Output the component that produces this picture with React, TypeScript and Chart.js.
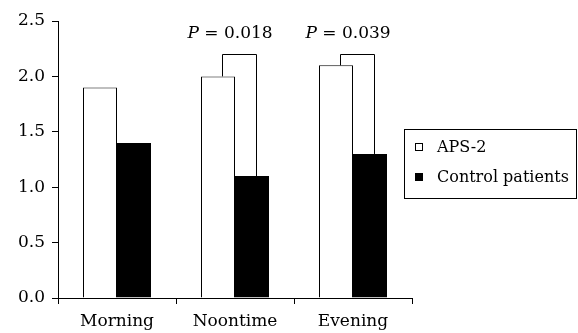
import React, { useEffect, useRef } from "react";
import { Chart, registerables } from "chart.js";

Chart.register(...registerables);

const categories = ["Morning", "Noontime", "Evening"];
const seriesNames = ["APS-2", "Control patients"];
const aps2Values = [1.9, 2.0, 2.1];
const controlValues = [1.4, 1.1, 1.3];
const yTicks = [0, 0.5, 1.0, 1.5, 2.0, 2.5];
const bracketCategories = [1, 2];
const bracketHeights = [2.2, 2.2];
const pValues = ["0.018", "0.039"];

const FONT = "'DejaVu Serif', 'Liberation Serif', serif";
const FS = 17;
const FS_LEGEND = 16;

const overlayPlugin = {
  id: "overlay",
  afterDatasetsDraw(chart: any) {
    const ctx = chart.ctx;
    const y = chart.scales.y;
    const meta0 = chart.getDatasetMeta(0);
    const meta1 = chart.getDatasetMeta(1);
    ctx.save();
    ctx.strokeStyle = "#000";
    ctx.lineWidth = 1;
    bracketCategories.forEach((ci, k) => {
      const b0 = meta0.data[ci];
      const b1 = meta1.data[ci];
      const x0 = Math.round(b0.x + 4) + 0.5;
      const x1 = Math.round(b1.x + 4) + 0.5;
      const top = Math.round(y.getPixelForValue(bracketHeights[k])) + 0.5;
      ctx.beginPath();
      ctx.moveTo(x0, b0.y);
      ctx.lineTo(x0, top);
      ctx.lineTo(x1, top);
      ctx.lineTo(x1, b1.y);
      ctx.stroke();
      const cx = chart.scales.x.getPixelForValue(ci) - 5;
      ctx.fillStyle = "#000";
      ctx.textBaseline = "alphabetic";
      ctx.font = `italic ${FS}px ${FONT}`;
      const pW = ctx.measureText("P").width;
      ctx.font = `${FS}px ${FONT}`;
      const rest = " = " + pValues[k];
      const rW = ctx.measureText(rest).width;
      const start = cx - (pW + rW) / 2;
      ctx.font = `italic ${FS}px ${FONT}`;
      ctx.textAlign = "left";
      ctx.fillText("P", start, 38);
      ctx.font = `${FS}px ${FONT}`;
      ctx.fillText(rest, start + pW, 38);
    });
    const lx = 404.5, ly = 129.5, lw = 172, lh = 69;
    ctx.strokeRect(lx, ly, lw, lh);
    const baseY = [152, 182];
    chart.data.datasets.forEach((ds: any, i: number) => {
      const by = baseY[i];
      ctx.fillStyle = ds.backgroundColor;
      ctx.fillRect(415, by - 9, 8, 8);
      ctx.strokeStyle = "#000";
      ctx.strokeRect(415.5, by - 8.5, 7, 7);
      ctx.fillStyle = "#000";
      ctx.font = `${FS_LEGEND}px ${FONT}`;
      ctx.textAlign = "left";
      ctx.textBaseline = "alphabetic";
      ctx.fillText(ds.label, 437, by);
    });
    ctx.restore();
  },
};

export default function App() {
  const ref = useRef<HTMLCanvasElement>(null);
  useEffect(() => {
    document.body.style.margin = "0";
    const barOpts = { borderWidth: 1, categoryPercentage: 68 / 118, barPercentage: 1.0, inflateAmount: 0 };
    const chart = new Chart(ref.current!, {
      type: "bar",
      data: {
        labels: categories,
        datasets: [
          {
            label: seriesNames[0],
            data: aps2Values,
            backgroundColor: "#ffffff",
            borderColor: "#000000",
            ...barOpts,
          },
          {
            label: seriesNames[1],
            data: controlValues,
            backgroundColor: "#000000",
            borderColor: "#000000",
            ...barOpts,
          },
        ],
      },
      options: {
        responsive: false,
        animation: false,
        layout: { padding: { top: 21, right: 166, left: 0, bottom: 0 } },
        plugins: { legend: { display: false }, tooltip: { enabled: false } },
        scales: {
          x: {
            grid: { drawOnChartArea: false, drawTicks: true, tickLength: 6, color: "#000", offset: true },
            border: { display: true, color: "#000", width: 1 },
            ticks: { color: "#000", font: { family: FONT, size: FS }, padding: 7, maxRotation: 0 },
            afterFit: (s: any) => { s.height = 35; },
          },
          y: {
            min: 0,
            max: 2.5,
            afterBuildTicks: (s: any) => { s.ticks = yTicks.map((v) => ({ value: v })); },
            grid: { drawOnChartArea: false, drawTicks: true, tickLength: 6, color: "#000" },
            border: { display: true, color: "#000", width: 1 },
            ticks: {
              color: "#000",
              font: { family: FONT, size: FS },
              padding: 7,
              callback: (v: any) => Number(v).toFixed(1),
            },
            afterFit: (s: any) => { s.width = 58; },
          },
        },
      },
      plugins: [overlayPlugin],
    });
    return () => chart.destroy();
  }, []);
  return <canvas ref={ref} width={578} height={333} style={{ display: "block" }} />;
}
